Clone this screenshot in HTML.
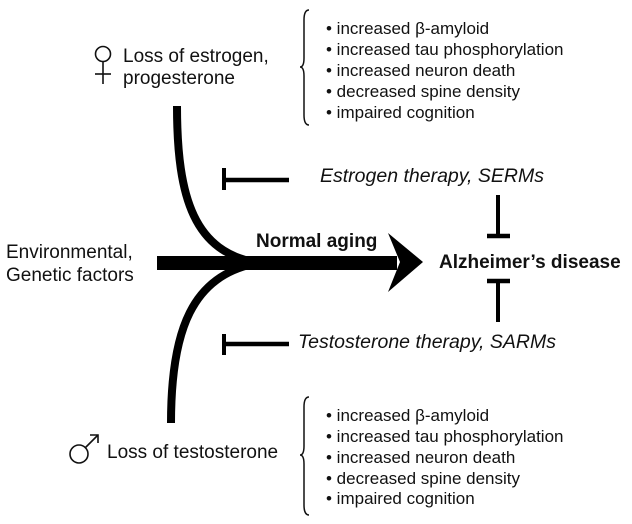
<!DOCTYPE html>
<html><head><meta charset="utf-8"><style>
html,body{margin:0;padding:0;background:#fff;}
svg{display:block;}
text{font-family:"Liberation Sans",Arial,sans-serif;fill:#111;}
</style></head><body>
<svg width="632" height="524" viewBox="0 0 632 524" xmlns="http://www.w3.org/2000/svg">
<!-- female symbol -->
<circle cx="103" cy="54" r="7.5" fill="none" stroke="#111" stroke-width="1.6"/>
<line x1="103" y1="61.5" x2="103" y2="84" stroke="#111" stroke-width="1.6"/>
<line x1="95" y1="74" x2="111" y2="74" stroke="#111" stroke-width="1.6"/>
<text x="123" y="62" font-size="19">Loss of estrogen,</text>
<text x="123" y="84" font-size="19">progesterone</text>

<!-- top brace -->
<path d="M309,10 Q304,10 304,20 L304,58 Q304,67 300,67 Q304,67 304,76 L304,115 Q304,125 309,125" fill="none" stroke="#111" stroke-width="1.5"/>
<g font-size="17">
<text x="326" y="34">• increased β-amyloid</text>
<text x="326" y="55">• increased tau phosphorylation</text>
<text x="326" y="76">• increased neuron death</text>
<text x="326" y="97">• decreased spine density</text>
<text x="326" y="118">• impaired cognition</text>
</g>

<!-- curves -->
<path d="M177,106 C177,200 195,252 258,263" fill="none" stroke="#000" stroke-width="8"/>
<path d="M171,423 C171,330 192,275 258,263" fill="none" stroke="#000" stroke-width="8"/>

<!-- main arrow -->
<rect x="157" y="256" width="240" height="14" fill="#000"/>
<polygon points="388,233 423,262 388,292 400,262" fill="#000"/>

<text x="6" y="258" font-size="19">Environmental,</text>
<text x="6" y="281" font-size="19">Genetic factors</text>
<text x="256" y="247" font-size="19" font-weight="bold">Normal aging</text>
<text x="439" y="268" font-size="19" font-weight="bold">Alzheimer’s disease</text>

<!-- inhibitors right -->
<line x1="498" y1="195" x2="498" y2="237" stroke="#000" stroke-width="4"/>
<line x1="487" y1="236" x2="510" y2="236" stroke="#000" stroke-width="4.5"/>
<line x1="498" y1="280" x2="498" y2="322" stroke="#000" stroke-width="4"/>
<line x1="487" y1="281" x2="510" y2="281" stroke="#000" stroke-width="4.5"/>

<!-- inhibitors left -->
<line x1="224" y1="180" x2="289" y2="180" stroke="#000" stroke-width="4.5"/>
<line x1="224" y1="168" x2="224" y2="190" stroke="#000" stroke-width="4"/>
<line x1="224" y1="344" x2="289" y2="344" stroke="#000" stroke-width="4.5"/>
<line x1="224" y1="334" x2="224" y2="355" stroke="#000" stroke-width="4"/>

<text x="320" y="182" font-size="19.5" font-style="italic">Estrogen therapy, SERMs</text>
<text x="298" y="348" font-size="19.5" font-style="italic">Testosterone therapy, SARMs</text>

<!-- male symbol -->
<circle cx="79" cy="454" r="9" fill="none" stroke="#111" stroke-width="1.6"/>
<line x1="85.5" y1="447.5" x2="98" y2="435" stroke="#111" stroke-width="1.6"/>
<polyline points="90,435 98,435 98,443" fill="none" stroke="#111" stroke-width="1.6"/>
<text x="107" y="458" font-size="19">Loss of testosterone</text>

<!-- bottom brace -->
<path d="M309,397 Q304,397 304,407 L304,446 Q304,455 300,455 Q304,455 304,464 L304,505 Q304,515 309,515" fill="none" stroke="#111" stroke-width="1.5"/>
<g font-size="17">
<text x="326" y="421">• increased β-amyloid</text>
<text x="326" y="442">• increased tau phosphorylation</text>
<text x="326" y="463">• increased neuron death</text>
<text x="326" y="484">• decreased spine density</text>
<text x="326" y="504">• impaired cognition</text>
</g>
</svg>
</body></html>
